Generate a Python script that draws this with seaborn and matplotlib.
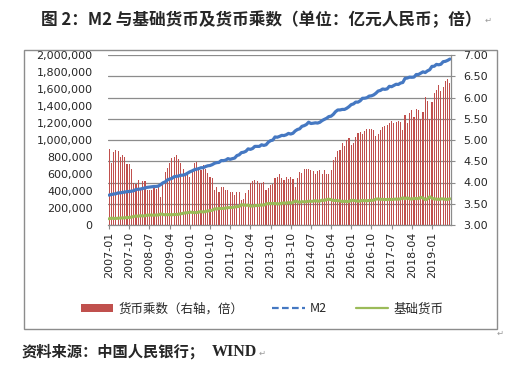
import pandas as pd
import matplotlib
matplotlib.use("Agg")
import matplotlib.pyplot as plt
import seaborn as sns
from matplotlib.lines import Line2D
from matplotlib.patches import Patch, Rectangle
from matplotlib.ticker import FuncFormatter, MultipleLocator

sns.set_style("white")
plt.rcParams["font.family"] = ["DejaVu Sans", "Noto Sans CJK SC"]
CJK = ["Noto Sans CJK SC", "DejaVu Sans"]

# === Data: monthly, 2007-01 .. 2019-09 ===
months = pd.date_range("2007-01-01", "2019-09-01", freq="MS").strftime("%Y-%m").tolist()

# M2, 亿元
m2 = [
    351498, 358659, 364104, 367326, 377832, 377516, 383885, 387205, 393099, 394205, 397979, 403442,
    417846, 421037, 423054, 429314, 436221, 443141, 446362, 448847, 452898, 453133, 458645, 475167,
    496136, 506709, 530627, 540481, 548264, 568916, 571640, 576699, 585405, 586643, 594604, 610225,
    625609, 636072, 649947, 656561, 663351, 673922, 674051, 687506, 696471, 699776, 710339, 725852,
    733885, 736131, 758131, 757385, 763409, 780821, 772923, 780853, 787406, 816829, 825494, 851591,
    855899, 867171, 895565, 889605, 900049, 924991, 925375, 924606, 943688, 936404, 943862, 974149,
    992129, 998600, 1035800, 1032552, 1042169, 1054404, 1052212, 1061256, 1077379, 1070242, 1079257, 1106525,
    1123521, 1131760, 1160687, 1168813, 1182300, 1209600, 1194100, 1197400, 1202100, 1199200, 1208600, 1228375,
    1242700, 1255300, 1275300, 1280200, 1301700, 1333400, 1353300, 1353500, 1359800, 1359700, 1373400, 1392278,
    1416300, 1424600, 1446200, 1445200, 1461200, 1490500, 1491600, 1497800, 1516400, 1519600, 1530400, 1550067,
    1575900, 1582900, 1600100, 1596000, 1601400, 1631300, 1627100, 1640900, 1655700, 1653400, 1670000, 1676768,
    1724900, 1729100, 1739300, 1737700, 1740000, 1770200, 1770600, 1786700, 1801700, 1793600, 1813200, 1826744,
    1865900, 1867400, 1889400, 1884700, 1891500, 1921400, 1925500, 1936800, 1952250,
]

# 基础货币, 亿元
base_money = [
    73400, 80600, 77100, 77200, 79500, 82200, 82600, 84000, 88500, 88800, 92300, 101400,
    105300, 103400, 109600, 106300, 108200, 116000, 116800, 117200, 114900, 117700, 117600, 129500,
    124300, 119200, 122500, 121500, 120000, 123400, 123200, 126700, 131600, 136100, 142200, 144600,
    151100, 148300, 146100, 146200, 151800, 157100, 152800, 159500, 165000, 169000, 173300, 190000,
    188200, 194700, 194400, 194200, 199800, 204400, 204500, 206600, 212200, 216100, 218400, 237200,
    236400, 231200, 234400, 223500, 222800, 227800, 229100, 231200, 235900, 233500, 247100, 252400,
    251800, 252200, 252600, 249400, 248100, 257200, 259200, 256300, 264100, 258500, 264500, 283700,
    274000, 266300, 275000, 271200, 274300, 280000, 277700, 279800, 286200, 280200, 281100, 292500,
    289000, 298900, 303600, 298400, 287300, 290500, 284900, 284300, 275300, 279800, 274700, 276200,
    290200, 289600, 284700, 279500, 281500, 290000, 285700, 284200, 288800, 289400, 292100, 304500,
    306600, 302100, 301900, 299400, 299300, 302700, 298600, 303300, 304900, 303400, 307600, 320000,
    308600, 319600, 308900, 304300, 313500, 309500, 310100, 325400, 317800, 297900, 306300, 332700,
    316300, 305600, 305700, 299600, 307100, 307900, 300900, 301200, 308400,
]

# 货币乘数, 倍 (right axis)
multiplier = [
    4.79, 4.45, 4.72, 4.76, 4.75, 4.59, 4.65, 4.61, 4.44, 4.44, 4.31, 3.98,
    3.97, 4.07, 3.86, 4.04, 4.03, 3.82, 3.82, 3.83, 3.94, 3.85, 3.90, 3.67,
    3.99, 4.25, 4.33, 4.45, 4.57, 4.61, 4.64, 4.55, 4.45, 4.31, 4.18, 4.22,
    4.14, 4.29, 4.45, 4.49, 4.37, 4.29, 4.41, 4.31, 4.22, 4.14, 4.10, 3.82,
    3.90, 3.78, 3.90, 3.90, 3.82, 3.82, 3.78, 3.78, 3.71, 3.78, 3.78, 3.59,
    3.62, 3.75, 3.82, 3.98, 4.04, 4.06, 4.04, 4.00, 4.00, 4.01, 3.82, 3.86,
    3.94, 3.96, 4.10, 4.14, 4.20, 4.10, 4.06, 4.14, 4.08, 4.14, 4.08, 3.90,
    4.10, 4.25, 4.22, 4.31, 4.31, 4.32, 4.30, 4.28, 4.20, 4.28, 4.30, 4.20,
    4.30, 4.20, 4.20, 4.29, 4.53, 4.59, 4.75, 4.76, 4.94, 4.86, 5.00, 5.04,
    4.88, 4.92, 5.08, 5.17, 5.19, 5.14, 5.22, 5.27, 5.25, 5.25, 5.24, 5.09,
    5.14, 5.24, 5.30, 5.33, 5.35, 5.39, 5.45, 5.41, 5.43, 5.45, 5.43, 5.24,
    5.59, 5.41, 5.63, 5.71, 5.55, 5.72, 5.71, 5.49, 5.67, 6.02, 5.92, 5.49,
    5.90, 6.11, 6.18, 6.29, 6.16, 6.24, 6.40, 6.43, 6.33,
]

title = "图 2：M2 与基础货币及货币乘数（单位：亿元人民币；倍）"
source = "资料来源：中国人民银行；"
legend_labels = ["货币乘数（右轴，倍）", "M2", "基础货币"]

red, blue, green, grid_c = "#C0504D", "#4578C2", "#9BBB59", "#8C8C8C"

n = len(months)
idx = list(range(n))

W, H = 531, 378
fig = plt.figure(figsize=(W / 100, H / 100), dpi=100)

# plot area in pixels: x 108..451, y 55..225
ax_bar = fig.add_axes([108 / W, 1 - 225 / H, (451 - 108) / W, (225 - 55) / H])
ax_line = ax_bar.twinx()

# bars: money multiplier on right axis
sns.barplot(x=idx, y=multiplier, ax=ax_bar, color=red, saturation=1,
            width=0.5, linewidth=0)
# lines: M2 and base money on left axis
sns.lineplot(x=idx, y=m2, ax=ax_line, color=blue, lw=2.3)
sns.lineplot(x=idx, y=base_money, ax=ax_line, color=green, lw=2.2)

ax_bar.set_ylim(3, 7)
ax_bar.set_xlim(-0.5, n - 0.5)
ax_bar.yaxis.tick_right()
ax_bar.yaxis.set_major_locator(MultipleLocator(0.5))
ax_bar.yaxis.set_major_formatter(FuncFormatter(lambda v, p: f"{v:.2f}"))
ax_bar.grid(axis="y", color=grid_c, lw=0.9)
ax_bar.grid(axis="x", visible=False)
ax_bar.set_axisbelow(True)
ax_bar.set_xlabel("")
ax_bar.set_ylabel("")
ax_bar.set_xticks(idx[::9])
ax_bar.set_xticklabels(months[::9], rotation=90, fontsize=8)
ax_bar.tick_params(axis="x", length=3, color=grid_c, pad=2, bottom=True)
ax_bar.tick_params(axis="y", labelsize=8, length=3, color=grid_c, pad=6,
                   right=True, left=False, labelright=True, labelleft=False)

ax_line.set_ylim(0, 2_000_000)
ax_line.yaxis.tick_left()
ax_line.yaxis.set_major_locator(MultipleLocator(200_000))
ax_line.yaxis.set_major_formatter(FuncFormatter(lambda v, p: f"{v:,.0f}"))
ax_line.tick_params(axis="y", labelsize=8, length=0, pad=11,
                    left=True, right=False, labelleft=True, labelright=False)
ax_line.set_xlabel("")
ax_line.set_ylabel("")

for a in (ax_bar, ax_line):
    for s in a.spines.values():
        s.set_visible(False)
for s in ["right", "bottom"]:
    ax_bar.spines[s].set_visible(True)
    ax_bar.spines[s].set_color(grid_c)
    ax_bar.spines[s].set_linewidth(0.9)

# legend
handles = [
    Patch(facecolor=red, edgecolor="none"),
    Line2D([], [], color=blue, lw=1.6, ls=(0, (3, 1.5))),
    Line2D([], [], color=green, lw=1.6),
]
fig.legend(handles, legend_labels, loc="center", bbox_to_anchor=(262 / W, 1 - 309 / H),
           ncol=3, frameon=False, prop={"family": CJK, "size": 9},
           handlelength=2.6, handleheight=0.55, handletextpad=0.4, columnspacing=2.3)

# chart border
fig.add_artist(Rectangle((24 / W, 1 - 329 / H), (497 - 24) / W, (329 - 50) / H,
                         transform=fig.transFigure, fill=False, ec="#8C8C8C", lw=1))

# title and source
fig.text(261 / W, 1 - 20 / H, title, ha="center", va="center", fontsize=12,
         fontweight="bold", family=CJK)
fig.text(21 / W, 1 - 352 / H, source, ha="left", va="center", fontsize=11,
         fontweight="bold", family=CJK)
fig.text(212 / W, 1 - 352 / H, "WIND", ha="left", va="center", fontsize=11.5,
         fontweight="bold", family=["Liberation Serif", "DejaVu Serif"])
for x, y in [(488, 20), (262, 353), (500, 333)]:
    fig.text(x / W, 1 - y / H, "↵", ha="center", va="center", fontsize=6, color="#9a9a9a")

fig.savefig("out.png", dpi=100)
